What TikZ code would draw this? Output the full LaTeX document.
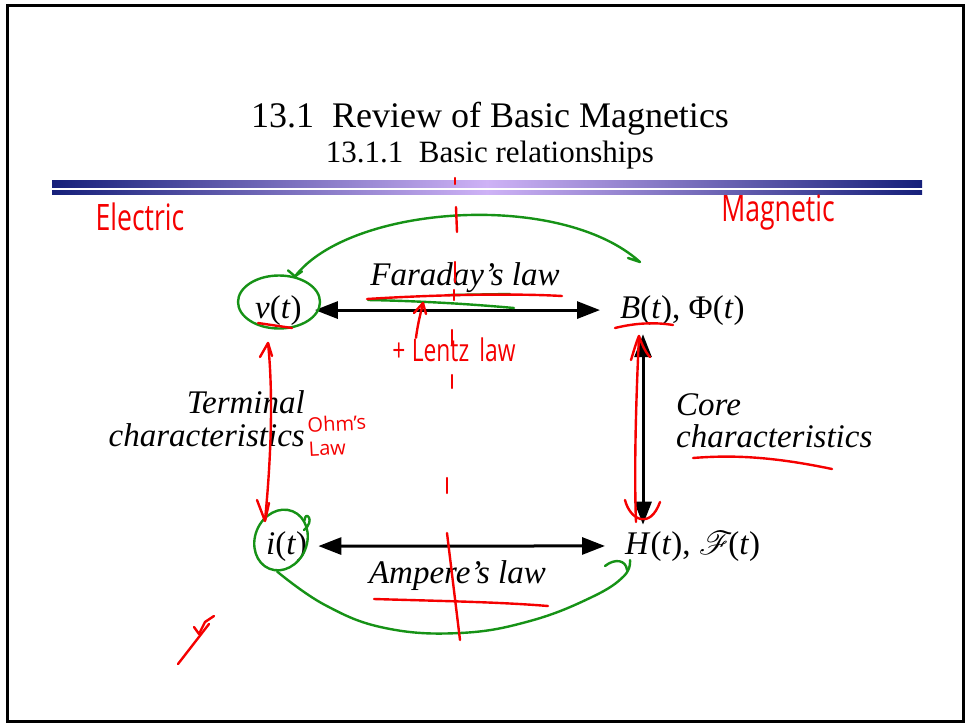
\documentclass[tikz,border=0pt]{standalone}
\usepackage{fontspec}
\setmainfont{Liberation Serif}
\newfontfamily\handfont{Open Sans}
\usepackage{graphicx}
\usepackage{tikz}
\usetikzlibrary{arrows.meta, shapes.geometric}
\definecolor{barnavy}{RGB}{22,32,122}
\definecolor{barlilac}{RGB}{206,178,246}
\definecolor{penred}{RGB}{245,0,0}
\definecolor{pengreen}{RGB}{22,146,22}
\font\rsfsbig=rsfs10 at 33pt
\newcommand{\tallhand}[1]{\scalebox{0.95}[1.3]{#1}}

\begin{document}
\begin{tikzpicture}[x=1pt, y=-1pt,
  sig/.style={font=\fontsize{33}{36}\selectfont, inner sep=0pt},
  txt/.style={font=\fontsize{33}{36}\selectfont\itshape, inner sep=0pt},
  dbl/.style={{Triangle[length=23pt,width=17pt]}-{Triangle[length=23pt,width=17pt]}, line width=3pt},
  redpen/.style={penred, line width=2.4pt, line cap=round, line join=round},
  greenpen/.style={pengreen, line width=2.4pt, line cap=round, line join=round},
  hand/.style={text=penred, inner sep=0pt, font=\handfont\fontsize{28}{30}\selectfont},
  ring/.style={greenpen, draw, ellipse, inner sep=0pt},
  bar/.style={left color=barnavy, right color=barnavy, middle color=barlilac}
]
  \useasboundingbox (0,0) rectangle (966,723);
  \fill[white] (0,0) rectangle (966,723);
  \draw[line width=3pt] (7.5,5.5) rectangle (963.5,721.5);

  % slide heading
  \node[font=\fontsize{36}{40}\selectfont, anchor=base] (title) at (490,127)
    {13.1\enspace Review of Basic Magnetics};
  \node[font=\fontsize{31}{34}\selectfont, anchor=base] (subtitle) at (490,162)
    {13.1.1\enspace Basic relationships};
  \shade[bar] (52,180) rectangle (922,187);
  \shade[bar] (52,190.5) rectangle (922,194);

  % quantities
  \node[sig, anchor=base west] (v) at (255,318) {\textit{v}(\textit{t})};
  \node[sig, anchor=base west] (B) at (620,318) {\textit{B}(\textit{t}), Φ(\textit{t})};
  \node[sig, anchor=base west] (i) at (266,554) {\textit{i}(\textit{t})};
  \node[sig, anchor=base west] (H) at (625,554) {\textit{H}(\textit{t}), {\rsfsbig F}(\textit{t})};

  \draw[dbl, shorten <=13pt, shorten >=20pt] (v.east) -- (B.west);
  \draw[dbl, shorten <=11pt, shorten >=20pt] (i.east) -- (H.west);
  \draw[dbl, shorten <=9pt, shorten >=6pt] ([xshift=23pt]B.south west)
    -- ([xshift=23pt]B.south west |- H.north);

  % laws
  \node[txt, anchor=base] (faraday) at (465,285) {Faraday’s law};
  \node[txt, anchor=base] (ampere) at (457.5,583) {Ampere’s law};
  \node[txt, anchor=base east] (term) at (305,413) {Terminal};
  \node[txt, anchor=base east] (termchar) at (305,446) {characteristics};
  \node[txt, anchor=base west] (core) at (676,415) {Core};
  \node[txt, anchor=base west] (corechar) at (676,447) {characteristics};

  % handwritten notes
  \node[hand] (electric) at (140,217) {\tallhand{Electric}};
  \node[hand] (magnetic) at (778,213) {\tallhand{Magnetic}};
  \node[hand, font=\handfont\fontsize{24}{26}\selectfont] (lenz) at (454,350)
    {\tallhand{+\;Lentz\;\,law}};
  \node[hand, font=\handfont\fontsize{20}{24}\selectfont, align=left, anchor=west, rotate=3]
    (ohm) at (308,437) {Ohm’s\\Law};

  % green marks
  \node[ring, minimum width=82pt, minimum height=53pt] (vring) at (279,302) {};
  \node[ring, minimum width=52pt, minimum height=62pt, rotate=-22] (iring) at (281,540) {};
  \coordinate (Btop) at (640,262);
  \draw[greenpen] (vring.58) .. controls (350,205) and (560,190) .. (Btop) -- ++(-12,-4);
  \draw[greenpen] (vring.58) ++(-7,-6) -- (vring.58) -- ++(7,-5);
  \draw[greenpen] (iring.62) .. controls (305,510) and (316,520) .. (304,530);
  \coordinate (Hbot) at (630,560);
  \draw[greenpen] plot[smooth, tension=0.7] coordinates
    {(iring.285) (325,605) (385,628) (460,633) (530,621) (592,597) (624,576) (Hbot)};
  \draw[greenpen] (605,566) .. controls (615,558) and (626,560) .. (627,570);
  \draw[greenpen] (368,300) .. controls (420,301) and (470,304) .. (514,308);
  \draw[greenpen] (448,295) -- (510,294);

  % red marks
  \draw[redpen] (367,299) .. controls (430,295) and (510,293) .. (562,296);
  \coordinate (faraline) at (423,303);
  \draw[redpen] ([xshift=-38pt]lenz.north) .. controls (418,322) and (421,312) .. (faraline);
  \draw[redpen] (414,313) -- (faraline) -- (426,314);
  \draw[redpen] (258,323) -- (292,328);
  \draw[redpen] (615,328) .. controls (635,323) and (655,322) .. (673,325);
  \draw[redpen] (268,343) .. controls (274,400) and (270,470) .. (265,520);
  \draw[redpen] (260,357) -- (268,343) -- (272,356);
  \draw[redpen] (257,500) -- (265,521) -- (269,503);
  \draw[redpen] (639,336) .. controls (636,400) and (634,470) .. (636,522);
  \draw[redpen] (631,360) .. controls (634,350) and (637,340) .. (639,336) .. controls (641,342) and (645,352) .. (650,357);
  \draw[redpen] (625,500) .. controls (630,520) and (650,530) .. (660,502);
  \draw[redpen] (693,458) .. controls (730,455) and (770,456) .. (832,469);
  \draw[redpen] (374,599) .. controls (440,601) and (500,602) .. (548,606);
  \draw[redpen] (178,664) -- (209,624);
  \draw[redpen] (194,627) -- (199,634) -- (205,622) -- (214,616);
  % dashed divider
  \foreach \ya/\yb/\xa/\xb in {178/184/455/455, 207/232/456/457, 262/282/455/455,
      290/300/454/454, 330/345/452/452, 375/388/452/452, 478/493/447/447, 533/640/447/460}
    \draw[redpen] (\xa,\ya) -- (\xb,\yb);
\end{tikzpicture}
\end{document}
